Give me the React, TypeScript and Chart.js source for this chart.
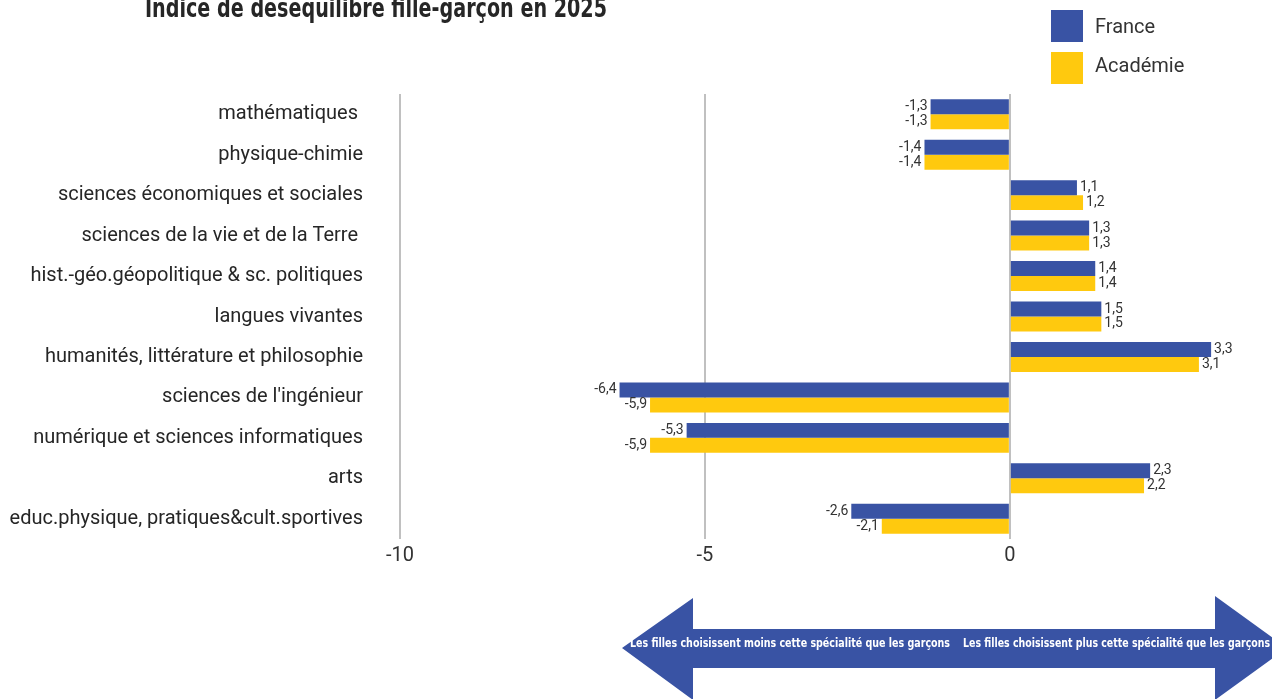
import React, { useEffect, useRef } from "react";
import { Chart, registerables } from "chart.js";

Chart.register(...registerables);

const categories = [
  "mathématiques ",
  "physique-chimie",
  "sciences économiques et sociales",
  "sciences de la vie et de la Terre ",
  "hist.-géo.géopolitique & sc. politiques",
  "langues vivantes",
  "humanités, littérature et philosophie",
  "sciences de l'ingénieur",
  "numérique et sciences informatiques",
  "arts",
  "educ.physique, pratiques&cult.sportives",
];
const franceValues = [-1.3, -1.4, 1.1, 1.3, 1.4, 1.5, 3.3, -6.4, -5.3, 2.3, -2.6];
const academieValues = [-1.3, -1.4, 1.2, 1.3, 1.4, 1.5, 3.1, -5.9, -5.9, 2.2, -2.1];
const xTickValues = [-10, -5, 0];
const seriesNames = ["France", "Académie"];
const titleText = "Indice de déséquilibre fille-garçon en 2025";
const arrowLeftText = "Les filles choisissent moins cette spécialité que les garçons";
const arrowRightText = "Les filles choisissent plus cette spécialité que les garçons";

const BLUE = "#3953A4";
const YELLOW = "#FFC90E";

const overlayPlugin = {
  id: "overlay",
  afterDatasetsDraw(chart: any) {
    const ctx = chart.ctx;
    ctx.save();
    ctx.font = "14px Roboto, 'DejaVu Sans', sans-serif";
    ctx.fillStyle = "#333333";
    ctx.textBaseline = "middle";
    chart.data.datasets.forEach((ds: any, di: number) => {
      const meta = chart.getDatasetMeta(di);
      meta.data.forEach((el: any, i: number) => {
        const v = ds.data[i];
        const txt = String(v).replace(".", ",");
        if (v < 0) {
          ctx.textAlign = "right";
          ctx.fillText(txt, el.x - 3, el.y);
        } else {
          ctx.textAlign = "left";
          ctx.fillText(txt, el.x + 3, el.y);
        }
      });
    });
    ctx.restore();
  },
  afterDraw(chart: any) {
    const ctx = chart.ctx;
    ctx.save();
    // title
    ctx.fillStyle = "#262626";
    ctx.font = "bold 27px 'Liberation Sans Narrow', 'DejaVu Sans Condensed', Roboto, sans-serif";
    ctx.textAlign = "center";
    ctx.textBaseline = "alphabetic";
    ctx.fillText(titleText, 376, 17, 462);

    // legend
    const colors = [BLUE, YELLOW];
    ctx.font = "20px Roboto, 'DejaVu Sans', sans-serif";
    ctx.textAlign = "left";
    ctx.textBaseline = "middle";
    seriesNames.forEach((n, i) => {
      ctx.fillStyle = colors[i];
      ctx.fillRect(1051, 10 + i * 42, 32, 32);
      ctx.fillStyle = "#333333";
      ctx.fillText(n, 1095, 28 + i * 39);
    });

    // double arrow
    ctx.fillStyle = BLUE;
    ctx.beginPath();
    ctx.moveTo(622, 648);
    ctx.lineTo(693, 598);
    ctx.lineTo(693, 629);
    ctx.lineTo(1215, 629);
    ctx.lineTo(1215, 596);
    ctx.lineTo(1287, 648);
    ctx.lineTo(1215, 700);
    ctx.lineTo(1215, 668);
    ctx.lineTo(693, 668);
    ctx.lineTo(693, 700);
    ctx.closePath();
    ctx.fill();

    ctx.fillStyle = "#ffffff";
    ctx.font = "bold 13px 'Liberation Sans Narrow', 'DejaVu Sans Condensed', Roboto, sans-serif";
    ctx.textBaseline = "middle";
    ctx.textAlign = "left";
    ctx.fillText(arrowLeftText, 630, 644, 320);
    ctx.fillText(arrowRightText, 963, 644, 307);
    ctx.restore();
  },
};

export default function App() {
  const canvasRef = useRef<HTMLCanvasElement | null>(null);

  useEffect(() => {
    document.body.style.margin = "0";
    const canvas = canvasRef.current;
    if (!canvas) return;
    const chart = new Chart(canvas, {
      type: "bar",
      data: {
        labels: categories,
        datasets: [
          {
            label: seriesNames[0],
            data: franceValues,
            backgroundColor: BLUE,
            categoryPercentage: 0.74,
            barPercentage: 1,
          },
          {
            label: seriesNames[1],
            data: academieValues,
            backgroundColor: YELLOW,
            categoryPercentage: 0.74,
            barPercentage: 1,
          },
        ],
      },
      options: {
        indexAxis: "y",
        animation: false,
        responsive: false,
        maintainAspectRatio: false,
        layout: { padding: { left: 0, top: 94, right: 6, bottom: 100 } },
        plugins: {
          legend: { display: false },
          title: { display: false },
          tooltip: { enabled: false },
        },
        scales: {
          x: {
            type: "linear",
            min: -10,
            max: 4.2,
            afterBuildTicks: (scale: any) => {
              scale.ticks = xTickValues.map((v) => ({ value: v }));
            },
            afterFit: (scale: any) => {
              scale.height = 60;
            },
            grid: { color: "#c0c0c0", lineWidth: 2, drawTicks: false },
            border: { display: false },
            ticks: {
              font: { family: "Roboto, 'DejaVu Sans', sans-serif", size: 20 },
              color: "#333333",
              padding: 5,
              callback: (v: any) => String(v),
            },
          },
          y: {
            type: "category",
            afterFit: (scale: any) => {
              scale.width = 400;
            },
            grid: { display: false, drawTicks: false },
            border: { display: false },
            ticks: {
              font: { family: "Roboto, 'DejaVu Sans', sans-serif", size: 20 },
              color: "#262626",
              padding: 37,
              autoSkip: false,
            },
          },
        },
      },
      plugins: [overlayPlugin],
    } as any);
    return () => chart.destroy();
  }, []);

  return (
    <div style={{ position: "fixed", left: 0, top: 0, width: 1272, height: 699, overflow: "hidden", background: "#fff" }}>
      <canvas ref={canvasRef} width={1272} height={699} />
    </div>
  );
}
